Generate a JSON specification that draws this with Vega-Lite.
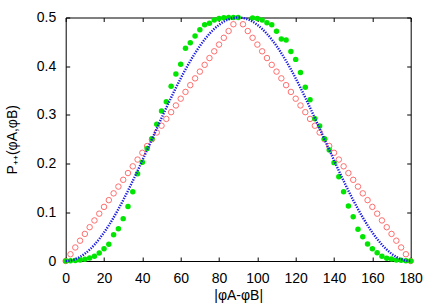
{
  "$schema": "https://vega.github.io/schema/vega-lite/v6.json",
  "width": 345,
  "height": 243.5,
  "autosize": {"type": "none"},
  "padding": {"left": 65.7, "top": 17.5, "right": 25.3, "bottom": 44},
  "background": "white",
  "config": {
    "view": {"stroke": "black", "strokeWidth": 1},
    "axis": {
      "labelFont": "Liberation Sans",
      "titleFont": "Liberation Sans",
      "labelFontSize": 14,
      "titleFontSize": 14,
      "labelColor": "black",
      "titleColor": "black",
      "titleFontWeight": "normal",
      "tickColor": "black",
      "tickWidth": 1,
      "domain": false,
      "grid": false,
      "tickSize": -4,
      "labelFlush": false,
      "labelOverlap": false
    }
  },
  "datasets": {
    "red": [
      {"x": 0, "p": 0}, {"x": 2.5, "p": 0.0139}, {"x": 5, "p": 0.0278}, {"x": 7.5, "p": 0.0417},
      {"x": 10, "p": 0.0556}, {"x": 12.5, "p": 0.0694}, {"x": 15, "p": 0.0833}, {"x": 17.5, "p": 0.0972},
      {"x": 20, "p": 0.1111}, {"x": 22.5, "p": 0.125}, {"x": 25, "p": 0.1389}, {"x": 27.5, "p": 0.1528},
      {"x": 30, "p": 0.1667}, {"x": 32.5, "p": 0.1806}, {"x": 35, "p": 0.1944}, {"x": 37.5, "p": 0.2083},
      {"x": 40, "p": 0.2222}, {"x": 42.5, "p": 0.2361}, {"x": 45, "p": 0.25}, {"x": 47.5, "p": 0.2639},
      {"x": 50, "p": 0.2778}, {"x": 52.5, "p": 0.2917}, {"x": 55, "p": 0.3056}, {"x": 57.5, "p": 0.3194},
      {"x": 60, "p": 0.3333}, {"x": 62.5, "p": 0.3472}, {"x": 65, "p": 0.3611}, {"x": 67.5, "p": 0.375},
      {"x": 70, "p": 0.3889}, {"x": 72.5, "p": 0.4028}, {"x": 75, "p": 0.4167}, {"x": 77.5, "p": 0.4306},
      {"x": 80, "p": 0.4444}, {"x": 82.5, "p": 0.4583}, {"x": 85, "p": 0.4722}, {"x": 87.5, "p": 0.4861},
      {"x": 92.5, "p": 0.4861}, {"x": 95, "p": 0.4722}, {"x": 97.5, "p": 0.4583}, {"x": 100, "p": 0.4444},
      {"x": 102.5, "p": 0.4306}, {"x": 105, "p": 0.4167}, {"x": 107.5, "p": 0.4028}, {"x": 110, "p": 0.3889},
      {"x": 112.5, "p": 0.375}, {"x": 115, "p": 0.3611}, {"x": 117.5, "p": 0.3472}, {"x": 120, "p": 0.3333},
      {"x": 122.5, "p": 0.3194}, {"x": 125, "p": 0.3056}, {"x": 127.5, "p": 0.2917}, {"x": 130, "p": 0.2778},
      {"x": 132.5, "p": 0.2639}, {"x": 135, "p": 0.25}, {"x": 137.5, "p": 0.2361}, {"x": 140, "p": 0.2222},
      {"x": 142.5, "p": 0.2083}, {"x": 145, "p": 0.1944}, {"x": 147.5, "p": 0.1806}, {"x": 150, "p": 0.1667},
      {"x": 152.5, "p": 0.1528}, {"x": 155, "p": 0.1389}, {"x": 157.5, "p": 0.125}, {"x": 160, "p": 0.1111},
      {"x": 162.5, "p": 0.0972}, {"x": 165, "p": 0.0833}, {"x": 167.5, "p": 0.0694}, {"x": 170, "p": 0.0556},
      {"x": 172.5, "p": 0.0417}, {"x": 175, "p": 0.0278}, {"x": 177.5, "p": 0.0139}, {"x": 180, "p": 0}
    ],
    "green": [
      {"x": 0, "p": 0}, {"x": 2.5, "p": 0.0005}, {"x": 5, "p": 0.001}, {"x": 7.5, "p": 0.002},
      {"x": 10, "p": 0.0035}, {"x": 12.5, "p": 0.006}, {"x": 15, "p": 0.0098}, {"x": 17.5, "p": 0.0163},
      {"x": 20, "p": 0.0252}, {"x": 22.5, "p": 0.0345}, {"x": 25, "p": 0.054}, {"x": 27.5, "p": 0.066},
      {"x": 30, "p": 0.087}, {"x": 32.5, "p": 0.112}, {"x": 35, "p": 0.142}, {"x": 37.5, "p": 0.179},
      {"x": 40, "p": 0.203}, {"x": 42.5, "p": 0.231}, {"x": 45, "p": 0.251}, {"x": 47.5, "p": 0.281},
      {"x": 50, "p": 0.308}, {"x": 52.5, "p": 0.327}, {"x": 55, "p": 0.359}, {"x": 57.5, "p": 0.384},
      {"x": 60, "p": 0.404}, {"x": 62.5, "p": 0.437}, {"x": 65, "p": 0.448}, {"x": 67.5, "p": 0.462},
      {"x": 70, "p": 0.475}, {"x": 72.5, "p": 0.485}, {"x": 75, "p": 0.488}, {"x": 77.5, "p": 0.495},
      {"x": 80, "p": 0.498}, {"x": 82.5, "p": 0.4995}, {"x": 85, "p": 0.5}, {"x": 87.5, "p": 0.5},
      {"x": 90, "p": 0.5}, {"x": 97.5, "p": 0.499}, {"x": 100, "p": 0.498}, {"x": 102.5, "p": 0.495},
      {"x": 105, "p": 0.489}, {"x": 107.5, "p": 0.485}, {"x": 110, "p": 0.472}, {"x": 112.5, "p": 0.456},
      {"x": 115, "p": 0.454}, {"x": 117.5, "p": 0.43}, {"x": 120, "p": 0.414}, {"x": 122.5, "p": 0.387},
      {"x": 125, "p": 0.357}, {"x": 127.5, "p": 0.331}, {"x": 130, "p": 0.292}, {"x": 132.5, "p": 0.277},
      {"x": 135, "p": 0.251}, {"x": 137.5, "p": 0.228}, {"x": 140, "p": 0.202}, {"x": 142.5, "p": 0.173},
      {"x": 145, "p": 0.142}, {"x": 147.5, "p": 0.113}, {"x": 150, "p": 0.091}, {"x": 152.5, "p": 0.065},
      {"x": 155, "p": 0.05}, {"x": 157.5, "p": 0.035}, {"x": 160, "p": 0.025}, {"x": 162.5, "p": 0.017},
      {"x": 165, "p": 0.0096}, {"x": 167.5, "p": 0.0058}, {"x": 170, "p": 0.004}, {"x": 172.5, "p": 0.002},
      {"x": 175, "p": 0.0014}, {"x": 177.5, "p": 0.0007}, {"x": 180, "p": 0}
    ],
    "blue": [
      {"x": 0, "p": 0}, {"x": 2.5, "p": 0.00095}, {"x": 5, "p": 0.0038}, {"x": 7.5, "p": 0.00852},
      {"x": 10, "p": 0.01508}, {"x": 12.5, "p": 0.02342}, {"x": 15, "p": 0.03349}, {"x": 17.5, "p": 0.04521},
      {"x": 20, "p": 0.05849}, {"x": 22.5, "p": 0.07322}, {"x": 25, "p": 0.0893}, {"x": 27.5, "p": 0.10661},
      {"x": 30, "p": 0.125}, {"x": 32.5, "p": 0.14435}, {"x": 35, "p": 0.1645}, {"x": 37.5, "p": 0.1853},
      {"x": 40, "p": 0.20659}, {"x": 42.5, "p": 0.22821}, {"x": 45, "p": 0.25}, {"x": 47.5, "p": 0.27179},
      {"x": 50, "p": 0.29341}, {"x": 52.5, "p": 0.3147}, {"x": 55, "p": 0.3355}, {"x": 57.5, "p": 0.35565},
      {"x": 60, "p": 0.375}, {"x": 62.5, "p": 0.39339}, {"x": 65, "p": 0.4107}, {"x": 67.5, "p": 0.42678},
      {"x": 70, "p": 0.44151}, {"x": 72.5, "p": 0.45479}, {"x": 75, "p": 0.46651}, {"x": 77.5, "p": 0.47658},
      {"x": 80, "p": 0.48492}, {"x": 82.5, "p": 0.49148}, {"x": 85, "p": 0.4962}, {"x": 87.5, "p": 0.49905},
      {"x": 90, "p": 0.5}, {"x": 92.5, "p": 0.49905}, {"x": 95, "p": 0.4962}, {"x": 97.5, "p": 0.49148},
      {"x": 100, "p": 0.48492}, {"x": 102.5, "p": 0.47658}, {"x": 105, "p": 0.46651}, {"x": 107.5, "p": 0.45479},
      {"x": 110, "p": 0.44151}, {"x": 112.5, "p": 0.42678}, {"x": 115, "p": 0.4107}, {"x": 117.5, "p": 0.39339},
      {"x": 120, "p": 0.375}, {"x": 122.5, "p": 0.35565}, {"x": 125, "p": 0.3355}, {"x": 127.5, "p": 0.3147},
      {"x": 130, "p": 0.29341}, {"x": 132.5, "p": 0.27179}, {"x": 135, "p": 0.25}, {"x": 137.5, "p": 0.22821},
      {"x": 140, "p": 0.20659}, {"x": 142.5, "p": 0.1853}, {"x": 145, "p": 0.1645}, {"x": 147.5, "p": 0.14435},
      {"x": 150, "p": 0.125}, {"x": 152.5, "p": 0.10661}, {"x": 155, "p": 0.0893}, {"x": 157.5, "p": 0.07322},
      {"x": 160, "p": 0.05849}, {"x": 162.5, "p": 0.04521}, {"x": 165, "p": 0.03349}, {"x": 167.5, "p": 0.02342},
      {"x": 170, "p": 0.01508}, {"x": 172.5, "p": 0.00852}, {"x": 175, "p": 0.0038}, {"x": 177.5, "p": 0.00095},
      {"x": 180, "p": 0}
    ]
  },
  "layer": [
    {
      "data": {"name": "red"},
      "mark": {"type": "point", "filled": false, "color": "#ff6e6e", "size": 30, "strokeWidth": 1, "opacity": 1},
      "encoding": {
        "x": {"field": "x", "type": "quantitative", "scale": {"domain": [0, 180], "nice": false},
          "axis": {"orient": "bottom", "values": [0, 20, 40, 60, 80, 100, 120, 140, 160, 180], "title": "|φA-φB|", "labelPadding": 14, "titlePadding": 3}},
        "y": {"field": "p", "type": "quantitative", "scale": {"domain": [0, 0.5], "nice": false},
          "axis": {"orient": "left", "values": [0, 0.1, 0.2, 0.3, 0.4, 0.5], "format": ".1~f", "title": "P₊₊(φA,φB)", "labelPadding": 14, "titlePadding": 17}}
      }
    },
    {
      "data": {"name": "green"},
      "mark": {"type": "circle", "color": "#00e600", "size": 30, "opacity": 1},
      "encoding": {
        "x": {"field": "x", "type": "quantitative",
          "axis": {"orient": "top", "values": [0, 20, 40, 60, 80, 100, 120, 140, 160, 180], "labels": false, "title": null}},
        "y": {"field": "p", "type": "quantitative",
          "axis": {"orient": "right", "values": [0, 0.1, 0.2, 0.3, 0.4, 0.5], "labels": false, "title": null}}
      }
    },
    {
      "data": {"name": "blue"},
      "mark": {"type": "line", "color": "#1a1ae6", "strokeWidth": 2.4, "strokeDash": [1.3, 1.3], "interpolate": "monotone"},
      "encoding": {
        "x": {"field": "x", "type": "quantitative", "axis": null},
        "y": {"field": "p", "type": "quantitative", "axis": null}
      }
    }
  ],
  "resolve": {"axis": {"x": "independent", "y": "independent"}}
}
